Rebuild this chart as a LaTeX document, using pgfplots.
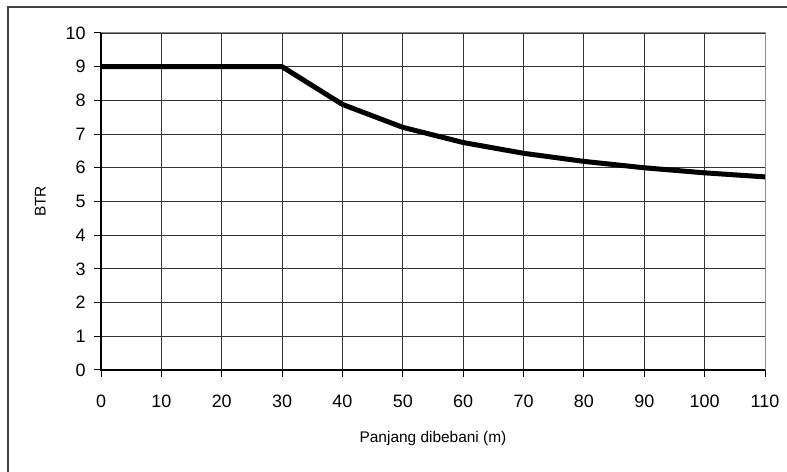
\documentclass[border=0pt]{standalone}
\usepackage{pgfplots}
\pgfplotsset{compat=1.18}
\usepackage{fontspec}
\setmainfont{Liberation Sans}

\begin{document}
\begin{tikzpicture}[x=1bp,y=1bp]
\useasboundingbox (0,0) rectangle (787,472);
% outer frame (only left and top edges visible)
\draw[line width=1.5bp, black!75] (8,0) -- (8,465) -- (787,465);
\begin{axis}[
  at={(101bp,102bp)}, anchor=south west,
  scale only axis,
  width=664bp, height=337bp,
  xmin=0, xmax=110, ymin=0, ymax=10,
  xtick={0,10,...,110}, ytick={0,1,...,10},
  tick pos=left,
  grid=major,
  major grid style={black!80, line width=0.9bp},
  axis line style={black!45, line width=1bp},
  tick style={black, line width=1bp},
  tick align=outside,
  major tick length=7bp,
  ticklabel style={font=\fontsize{18}{18}\selectfont},
  /pgf/number format/assume math mode=true,
  xticklabel style={yshift=-14bp},
  yticklabel style={xshift=-5bp},
  xlabel={Panjang dibebani (m)},
  ylabel={BTR},
  label style={font=\fontsize{15.5}{15.5}\selectfont},
  xlabel style={yshift=-17bp},
  ylabel style={yshift=13bp},
  clip=false,
]
\addplot[black, line width=5bp, line join=round] coordinates {
(0,9) (30,9) (40,7.88) (50,7.2) (60,6.75) (70,6.43) (80,6.19) (90,6.0) (100,5.85) (110,5.73)
};
\draw[black, line width=1.5bp] (axis cs:0,10) -- (axis cs:0,0) -- (axis cs:110,0);
\end{axis}
\end{tikzpicture}
\end{document}
